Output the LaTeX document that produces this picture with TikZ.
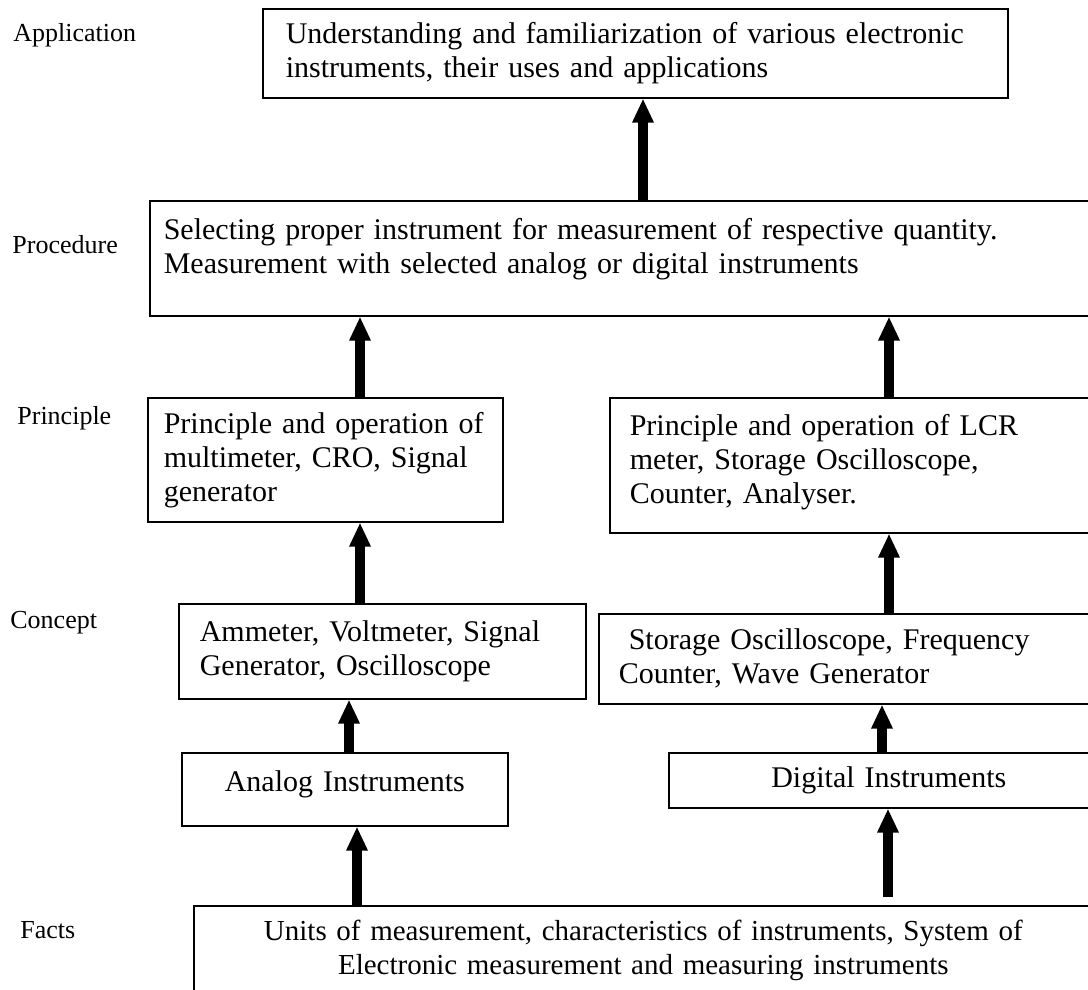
\documentclass[tikz,border=0pt]{standalone}
\usepackage{fontspec}
\setmainfont{Liberation Serif}
\usetikzlibrary{arrows.meta}

\begin{document}
\begin{tikzpicture}[
x=0.5pt,y=-0.5pt,
font=\fontsize{15}{17}\selectfont,
level/.style={anchor=west,inner sep=0pt,font=\fontsize{13}{15}\selectfont},
stage/.style={draw,line width=0.8pt,anchor=north west,align=left,inner ysep=0pt},
flow/.style={-{Triangle[width=10pt,length=12pt]},line width=5pt},
]

% Page frame
\useasboundingbox (0,0) rectangle (1088,990);
\clip (0,0) rectangle (1088,990);

% Level names
\node[level] (lapp)  at (13,35)  {Application};
\node[level] (lproc) at (12,245) {Procedure};
\node[level] (lprin) at (17,418) {Principle};
\node[level] (lconc) at (10,623) {Concept};
\node[level] (lfact) at (20,930) {Facts};

% Boxes
\node[stage,text width=349.5pt,inner xsep=11.5pt,minimum height=44.5pt] (app) at (262,8)
  {Understanding and familiarization of various electronic\\ instruments, their uses and applications};
\node[stage,text width=459pt,inner xsep=7pt,minimum height=57.5pt] (proc) at (149,200)
  {Selecting proper instrument for measurement of respective quantity.\\ Measurement with selected analog or digital instruments\\[-5pt]\mbox{}};
\node[stage,text width=161.5pt,inner xsep=8pt,minimum height=62pt] (prinL) at (147,397)
  {Principle and operation of\\ multimeter, CRO, Signal\\ generator};
\node[stage,text width=223pt,inner xsep=10pt,minimum height=67.5pt] (prinR) at (609,397)
  {Principle and operation of LCR\\ meter, Storage Oscilloscope,\\ Counter, Analyser.\\[-11pt]\mbox{}};
\node[stage,text width=182.5pt,inner xsep=10.5pt,minimum height=47.5pt] (concL) at (178,603)
  {Ammeter, Voltmeter, Signal\\ Generator, Oscilloscope};
\node[stage,text width=228.5pt,inner xsep=10pt,minimum height=45pt] (concR) at (598,613)
  {\ Storage Oscilloscope, Frequency\\ Counter, Wave Generator};
\node[stage,align=center,text width=153pt,inner xsep=5pt,minimum height=36.5pt] (analog) at (181,752)
  {Analog Instruments\\[-9pt]\mbox{}};
\node[stage,align=center,text width=210pt,inner xsep=5pt,minimum height=27.5pt] (digital) at (668,752)
  {Digital Instruments};
\node[stage,align=center,text width=439.5pt,inner xsep=5pt,minimum height=45pt,
  font=\fontsize{14.5}{17}\selectfont] (facts) at (193,905)
  {Units of measurement, characteristics of instruments, System of\\ Electronic measurement and measuring instruments};

% Arrows upwards
\foreach \src/\dst/\col in {proc/app/643, prinL/proc/360, prinR/proc/889, concL/prinL/360,
    concR/prinR/889, analog/concL/349, digital/concR/882, facts/analog/357}
  \draw[flow] (\src.north -| \col,0) -- (\dst.south -| \col,0);
\draw[flow,shorten <=4pt] (facts.north -| 888,0) -- (digital.south -| 888,0);
\end{tikzpicture}
\end{document}
